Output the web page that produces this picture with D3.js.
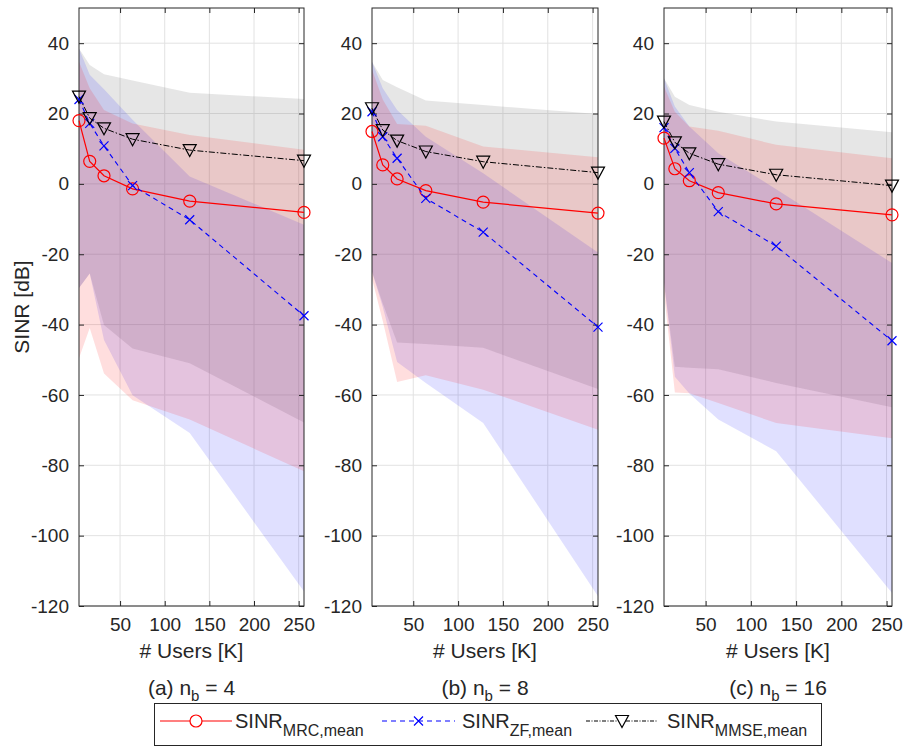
<!DOCTYPE html>
<html><head><meta charset="utf-8">
<script src="https://cdn.jsdelivr.net/npm/d3@7"></script>
<style>
body{margin:0;background:#fff}
text{font-family:"Liberation Sans",Arial,Helvetica,sans-serif;fill:#262626}
</style>
</head><body>
<svg id="chart" width="904" height="749"></svg>
<script>
// ---------- data ----------
const users = [4, 16, 32, 64, 128, 256];
const xTicks = [50, 100, 150, 200, 250];
const yTicks = [-120, -100, -80, -60, -40, -20, 0, 20, 40];
const panelNames = ["(a)", "(b)", "(c)"];
const nbValues = [4, 8, 16];

// panel (a) n_b = 4
const mrcMean_a  = [18.0, 6.4, 2.3, -1.4, -4.9, -8.1];
const zfMean_a   = [24.0, 17.2, 10.8, -0.5, -10.2, -37.5];
const mmseMean_a = [24.8, 18.7, 15.8, 12.7, 9.6, 6.6];
const mmseUpper_a = [38.5, 33.8, 31.2, 29.4, 25.9, 24.1];
const mmseLower_a = [-29.6, -25.5, -40.1, -46.8, -51.0, -67.8];
const mrcUpper_a  = [34.7, 27.2, 21.0, 17.2, 13.9, 9.7];
const mrcLower_a  = [-49.6, -41.0, -53.9, -61.5, -67.0, -81.7];
const zfUpper_a   = [38.5, 31.0, 26.9, 18.2, 2.1, -11.6];
const zfLower_a   = [-29.6, -25.5, -44.4, -60.1, -70.8, -115.9];

// panel (b) n_b = 8
const mrcMean_b  = [14.9, 5.4, 1.4, -1.9, -5.2, -8.3];
const zfMean_b   = [20.5, 13.4, 7.3, -4.1, -13.7, -40.7];
const mmseMean_b = [21.5, 15.3, 12.3, 9.2, 6.3, 3.2];
const mmseUpper_b = [34.7, 29.5, 27.5, 23.7, 22.4, 19.9];
const mmseLower_b = [-25.0, -34.0, -45.1, -45.5, -46.6, -58.3];
const mrcUpper_b  = [32.5, 24.0, 17.0, 16.5, 10.6, 7.6];
const mrcLower_b  = [-27.0, -39.0, -56.3, -54.4, -58.5, -69.9];
const zfUpper_b   = [34.7, 27.2, 21.0, 13.4, 3.0, -19.5];
const zfLower_b   = [-25.0, -35.0, -50.6, -56.6, -68.0, -117.2];

// panel (c) n_b = 16
const mrcMean_c  = [13.0, 4.3, 0.9, -2.5, -5.7, -8.8];
const zfMean_c   = [16.0, 10.1, 3.2, -7.9, -17.7, -44.6];
const mmseMean_c = [17.7, 11.8, 8.7, 5.6, 2.6, -0.5];
const mmseUpper_c = [30.0, 24.8, 22.4, 20.5, 17.7, 14.7];
const mmseLower_c = [-28.0, -52.0, -52.3, -52.7, -56.6, -63.5];
const mrcUpper_c  = [27.7, 20.5, 16.3, 15.1, 11.1, 7.3];
const mrcLower_c  = [-31.0, -59.3, -59.5, -62.3, -68.0, -72.3];
const zfUpper_c   = [30.0, 22.0, 16.3, 8.7, -1.5, -22.5];
const zfLower_c   = [-28.0, -54.8, -59.6, -67.0, -76.0, -116.3];

const panelData = [
  {mrc: mrcMean_a, zf: zfMean_a, mmse: mmseMean_a, mmseU: mmseUpper_a, mmseL: mmseLower_a, mrcU: mrcUpper_a, mrcL: mrcLower_a, zfU: zfUpper_a, zfL: zfLower_a},
  {mrc: mrcMean_b, zf: zfMean_b, mmse: mmseMean_b, mmseU: mmseUpper_b, mmseL: mmseLower_b, mrcU: mrcUpper_b, mrcL: mrcLower_b, zfU: zfUpper_b, zfL: zfLower_b},
  {mrc: mrcMean_c, zf: zfMean_c, mmse: mmseMean_c, mmseU: mmseUpper_c, mmseL: mmseLower_c, mrcU: mrcUpper_c, mrcL: mrcLower_c, zfU: zfUpper_c, zfL: zfLower_c}
];

// ---------- layout ----------
const svg = d3.select("#chart");
const panelX = [[79, 304], [372, 598], [664, 892]];
const plotTop = 8, plotBottom = 606;
const axisColor = "#262626";
const y = d3.scaleLinear().domain([-120, 50]).range([plotBottom, plotTop]);
const plainFmt = v => String(v);

const triPath = "M-6.5,-5.5L6.5,-5.5L0,6.5Z";
const xPath = "M-4.5,-4.5L4.5,4.5M-4.5,4.5L4.5,-4.5";

panelData.forEach((d, i) => {
  const [x0, x1] = panelX[i];
  const x = d3.scaleLinear().domain([4, 256]).range([x0, x1]);
  const g = svg.append("g");

  // grid
  g.append("g").selectAll("line").data(xTicks).join("line")
    .attr("x1", v => x(v)).attr("x2", v => x(v)).attr("y1", plotTop).attr("y2", plotBottom)
    .attr("stroke", "#e2e2e2").attr("stroke-width", 1);
  g.append("g").selectAll("line").data(yTicks).join("line")
    .attr("x1", x0).attr("x2", x1).attr("y1", v => y(v)).attr("y2", v => y(v))
    .attr("stroke", "#e2e2e2").attr("stroke-width", 1);

  // bands
  const area = (U, L) => d3.area().x((v, k) => x(users[k])).y0((v, k) => y(L[k])).y1((v, k) => y(U[k]))(users);
  g.append("path").attr("d", area(d.mmseU, d.mmseL)).attr("fill", "rgb(128,128,128)").attr("fill-opacity", 0.2);
  g.append("path").attr("d", area(d.zfU, d.zfL)).attr("fill", "rgb(0,0,255)").attr("fill-opacity", 0.12);
  g.append("path").attr("d", area(d.mrcU, d.mrcL)).attr("fill", "rgb(255,0,0)").attr("fill-opacity", 0.13);

  // axes with D3 axis generators (ticks inside)
  const gx = g.append("g").attr("transform", `translate(0,${plotBottom})`)
    .call(d3.axisBottom(x).tickValues(xTicks).tickFormat(plainFmt).tickSize(-5).tickPadding(12));
  const gxt = g.append("g").attr("transform", `translate(0,${plotTop})`)
    .call(d3.axisTop(x).tickValues(xTicks).tickSize(-5).tickFormat(""));
  const gy = g.append("g").attr("transform", `translate(${x0},0)`)
    .call(d3.axisLeft(y).tickValues(yTicks).tickFormat(plainFmt).tickSize(-5).tickPadding(10));
  const gyr = g.append("g").attr("transform", `translate(${x1},0)`)
    .call(d3.axisRight(y).tickValues(yTicks).tickSize(-5).tickFormat(""));
  [gx, gxt, gy, gyr].forEach(a => {
    a.select(".domain").remove();
    a.selectAll(".tick line").attr("stroke", axisColor).attr("stroke-width", 1);
    a.selectAll(".tick text").attr("fill", axisColor).style("font-size", "19px").style("font-family", "'Liberation Sans',Arial,sans-serif");
  });
  g.append("rect").attr("x", x0).attr("y", plotTop).attr("width", x1 - x0).attr("height", plotBottom - plotTop)
    .attr("fill", "none").attr("stroke", axisColor).attr("stroke-width", 1);

  // series lines
  const line = arr => d3.line().x((v, k) => x(users[k])).y((v, k) => y(arr[k]))(users);
  g.append("path").attr("d", line(d.mrc)).attr("fill", "none").attr("stroke", "#ff0000").attr("stroke-width", 1.2);
  g.selectAll(".mrcm").data(d.mrc).join("circle").attr("cx", (v, k) => x(users[k])).attr("cy", v => y(v)).attr("r", 6)
    .attr("fill", "none").attr("stroke", "#ff0000").attr("stroke-width", 1.2);

  g.append("path").attr("d", line(d.zf)).attr("fill", "none").attr("stroke", "#0000ff").attr("stroke-width", 1.1).attr("stroke-dasharray", "5,4");
  g.selectAll(".zfm").data(d.zf).join("path").attr("d", xPath)
    .attr("transform", (v, k) => `translate(${x(users[k])},${y(v)})`).attr("fill", "none").attr("stroke", "#0000ff").attr("stroke-width", 1.2);

  g.append("path").attr("d", line(d.mmse)).attr("fill", "none").attr("stroke", "#000").attr("stroke-width", 1).attr("stroke-dasharray", "6,2,1.5,2");
  g.selectAll(".mmsem").data(d.mmse).join("path").attr("d", triPath)
    .attr("transform", (v, k) => `translate(${x(users[k])},${y(v)})`).attr("fill", "none").attr("stroke", "#000").attr("stroke-width", 1.2);

  // labels
  const cx = (x0 + x1) / 2;
  g.append("text").attr("x", cx).attr("y", 658).attr("text-anchor", "middle").style("font-size", "21px").text("# Users [K]");
  const st = g.append("text").attr("x", cx).attr("y", 695).attr("text-anchor", "middle").style("font-size", "21px");
  st.append("tspan").text(panelNames[i] + " n");
  st.append("tspan").attr("dy", 6).style("font-size", "15px").text("b");
  st.append("tspan").attr("dy", -6).text(" = " + nbValues[i]);
});

// y label
svg.append("text").attr("transform", `translate(29,${(plotTop + plotBottom) / 2}) rotate(-90)`)
  .attr("text-anchor", "middle").style("font-size", "21px").text("SINR [dB]");

// legend
const lg = svg.append("g");
lg.append("rect").attr("x", 154.5).attr("y", 703.5).attr("width", 667).attr("height", 42)
  .attr("fill", "#fff").attr("stroke", axisColor).attr("stroke-width", 1);
const legendItems = [
  {sub: "MRC,mean", color: "#ff0000", dash: null, marker: "circle", lx: [160, 232], tx: 235},
  {sub: "ZF,mean", color: "#0000ff", dash: "5,4", marker: "x", lx: [382, 455], tx: 462},
  {sub: "MMSE,mean", color: "#000", dash: "4,1.5,1,1.5", marker: "tri", lx: [586, 658], tx: 667}
];
const ly = 721;
legendItems.forEach(it => {
  lg.append("line").attr("x1", it.lx[0]).attr("x2", it.lx[1]).attr("y1", ly).attr("y2", ly)
    .attr("stroke", it.color).attr("stroke-width", 1.1).attr("stroke-dasharray", it.dash);
  const mx = (it.lx[0] + it.lx[1]) / 2;
  if (it.marker === "circle") {
    lg.append("circle").attr("cx", mx).attr("cy", ly).attr("r", 6).attr("fill", "#fff").attr("stroke", it.color).attr("stroke-width", 1.2);
  } else if (it.marker === "x") {
    lg.append("path").attr("d", xPath).attr("transform", `translate(${mx},${ly})`).attr("stroke", it.color).attr("stroke-width", 1.2);
  } else {
    lg.append("path").attr("d", triPath).attr("transform", `translate(${mx},${ly})`).attr("fill", "#fff").attr("stroke", it.color).attr("stroke-width", 1.2);
  }
  const t = lg.append("text").attr("x", it.tx).attr("y", 728).style("font-size", "20px");
  t.append("tspan").text("SINR");
  t.append("tspan").attr("dy", 8).style("font-size", "16px").text(it.sub);
});
</script>
</body></html>
